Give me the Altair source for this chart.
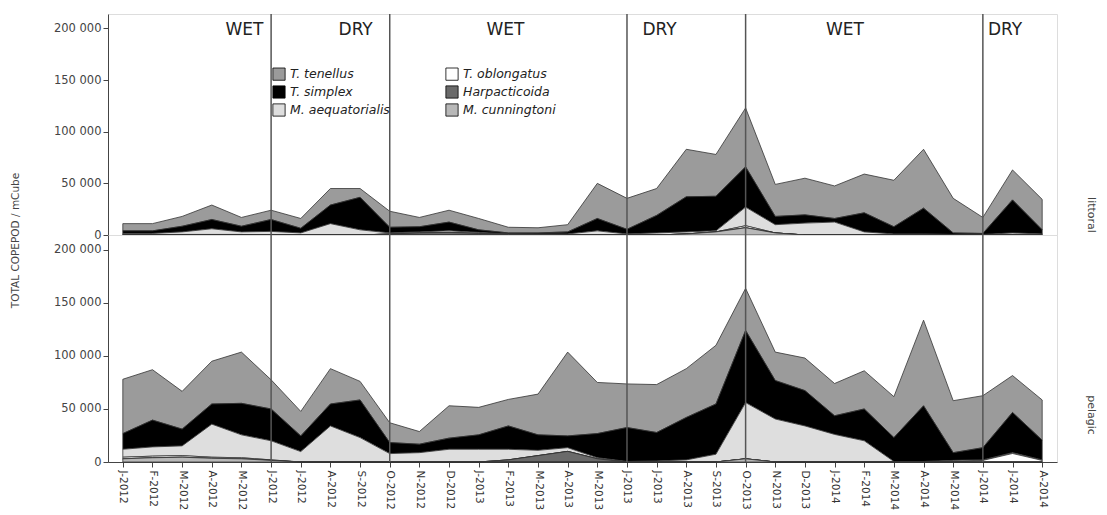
import altair as alt
import pandas as pd

months = ["J-2012", "F-2012", "M-2012", "A-2012", "M-2012", "J-2012", "J-2012", "A-2012",
          "S-2012", "O-2012", "N-2012", "D-2012", "J-2013", "F-2013", "M-2013", "A-2013",
          "M-2013", "J-2013", "J-2013", "A-2013", "S-2013", "O-2013", "N-2013", "D-2013",
          "J-2014", "F-2014", "M-2014", "A-2014", "M-2014", "J-2014", "J-2014", "A-2014"]

# ---- littoral ----
lit_tenellus = [7000, 7000, 9500, 14000, 8500, 9000, 9500, 16000, 8500, 15500, 9000, 11500, 11000, 5500, 5000, 7000,
                34000, 30000, 26000, 46000, 40500, 57000, 31000, 35500, 31500, 37500, 45000, 57000, 33500, 15500, 29000, 29500]
lit_simplex = [2500, 2500, 5500, 9000, 5500, 11500, 4500, 18000, 31500, 5500, 5000, 8500, 2500, 1000, 1000, 2000,
               12000, 4500, 17000, 34000, 33500, 39000, 8000, 8000, 3500, 18500, 7000, 25000, 1500, 1000, 32000, 4000]
lit_aequatorialis = [1000, 1000, 2500, 5500, 2500, 3500, 2000, 11000, 5000, 1000, 1000, 1500, 1000, 0, 500, 1000,
                     4000, 1000, 2000, 2000, 1000, 18000, 8000, 11500, 12500, 3000, 1000, 1000, 500, 500, 2000, 1000]
lit_oblongatus = [500, 500, 500, 500, 500, 0, 0, 0, 0, 0, 0, 0, 0, 0, 0, 0,
                  0, 0, 0, 0, 0, 2000, 0, 0, 0, 0, 0, 0, 0, 0, 0, 0]
lit_harpacticoida = [0, 0, 0, 0, 0, 0, 0, 0, 0, 1000, 2000, 2500, 1500, 500, 0, 0,
                     0, 0, 0, 0, 0, 0, 0, 0, 0, 0, 0, 0, 0, 0, 0, 0]
lit_cunningtoni = [0, 0, 0, 0, 0, 0, 0, 0, 0, 0, 0, 0, 0, 500, 500, 0,
                   0, 0, 0, 1000, 3000, 7000, 2000, 0, 0, 0, 0, 0, 0, 0, 0, 0]

# ---- pelagic ----
pel_tenellus = [51200, 47500, 35600, 40300, 48300, 27500, 23100, 33300, 17500, 18700, 11900, 30500, 25900, 25000, 38400, 79000,
                48200, 41100, 45200, 46000, 55300, 39700, 26800, 30700, 30400, 36000, 38600, 80700, 49000, 49000, 34800, 37900]
pel_simplex = [14800, 25300, 15800, 19000, 29700, 30000, 14800, 20700, 35500, 10400, 8000, 10500, 13600, 22000, 14600, 11100,
               22800, 32000, 26800, 40000, 47400, 68000, 36300, 33300, 17600, 30000, 22500, 52500, 7300, 11500, 37900, 18600]
pel_aequatorialis = [7500, 8700, 9200, 31200, 21600, 18000, 9800, 34000, 23000, 7900, 8800, 12000, 12000, 10000, 5000, 3500,
                     1000, 500, 1000, 2000, 7300, 53000, 40500, 34000, 26000, 20000, 500, 500, 1500, 500, 800, 500]
pel_oblongatus = [1500, 1500, 1500, 1000, 1000, 500, 0, 0, 0, 0, 0, 0, 0, 0, 0, 0,
                  0, 0, 0, 0, 0, 0, 0, 0, 0, 0, 0, 0, 0, 1500, 8000, 1500]
pel_harpacticoida = [0, 0, 0, 0, 0, 0, 0, 0, 0, 0, 0, 0, 0, 2000, 6000, 10000,
                     3000, 0, 0, 0, 0, 0, 0, 0, 0, 0, 0, 0, 0, 0, 0, 0]
pel_cunningtoni = [3000, 4000, 4500, 3500, 3000, 1500, 0, 0, 0, 0, 0, 0, 0, 0, 0, 0,
                   0, 0, 0, 0, 0, 3000, 0, 0, 0, 0, 0, 0, 0, 0, 0, 0]

species_stack = ["M. cunningtoni", "Harpacticoida", "T. oblongatus", "M. aequatorialis", "T. simplex", "T. tenellus"]
legend_order = ["T. tenellus", "T. simplex", "M. aequatorialis", "T. oblongatus", "Harpacticoida", "M. cunningtoni"]
legend_colors = ["#9b9b9b", "#000000", "#dedede", "#ffffff", "#6a6a6a", "#b8b8b8"]

season_boundaries = [5, 9, 17, 21, 29]
season_labels = ["WET", "DRY", "WET", "DRY", "WET", "DRY"]
season_centers = [4.1, 7.85, 12.9, 18.1, 24.35, 29.75]

def make_df(series):
    rows = []
    for name, vals in series.items():
        rank = species_stack.index(name)
        for i, v in enumerate(vals):
            rows.append({"idx": i, "species": name, "value": v, "rank": rank})
    return pd.DataFrame(rows)

lit_df = make_df({"T. tenellus": lit_tenellus, "T. simplex": lit_simplex, "M. aequatorialis": lit_aequatorialis,
                  "T. oblongatus": lit_oblongatus, "Harpacticoida": lit_harpacticoida, "M. cunningtoni": lit_cunningtoni})
pel_df = make_df({"T. tenellus": pel_tenellus, "T. simplex": pel_simplex, "M. aequatorialis": pel_aequatorialis,
                  "T. oblongatus": pel_oblongatus, "Harpacticoida": pel_harpacticoida, "M. cunningtoni": pel_cunningtoni})
rule_df = pd.DataFrame({"idx": season_boundaries})
season_df = pd.DataFrame({"idx": season_centers, "label": season_labels})

FONT = "DejaVu Sans"
W = 949
H_TOP = 221
H_BOT = 227

xscale = alt.Scale(domain=[-0.5, 31.5], nice=False, zero=False)
label_array = "[" + ",".join("'" + m + "'" for m in months) + "]"
x_axis = alt.Axis(values=list(range(32)), labelExpr=label_array + "[datum.value]", labelAngle=90,
                  grid=False, tickSize=5, labelFont=FONT, labelFontSize=10.5, labelColor="#333",
                  domainColor="#444", tickColor="#444", labelPadding=3)
x_top = alt.X("idx:Q", scale=xscale, axis=None)
x_bot = alt.X("idx:Q", scale=xscale, axis=x_axis, title=None)

yscale = alt.Scale(domain=[0, 214000], nice=False, zero=True)
ylab = "replace(format(datum.value, ','), ',', ' ')"
y_axis_top = alt.Axis(values=[0, 50000, 100000, 150000, 200000], labelExpr=ylab, grid=False, tickSize=5,
                      labelFont=FONT, labelFontSize=11.5, labelColor="#444", domainColor="#444", tickColor="#444",
                      title="TOTAL COPEPOD / mCube", titleFont=FONT, titleFontSize=10.5, titleFontWeight="normal",
                      titleColor="#444", titleX=-93, titleY=226, titleAngle=-90, titleAlign="center",
                      titleBaseline="middle")
y_axis_bot = alt.Axis(values=[0, 50000, 100000, 150000, 200000], labelExpr=ylab, grid=False, tickSize=5,
                      labelFont=FONT, labelFontSize=11.5, labelColor="#444", domainColor="#444", tickColor="#444",
                      title=None)

color = alt.Color("species:N", scale=alt.Scale(domain=legend_order, range=legend_colors),
                  legend=alt.Legend(title=None, orient="none", legendX=164, legendY=53, columns=2,
                                    symbolType="square", symbolSize=150, symbolStrokeColor="#000",
                                    symbolStrokeWidth=0.8, labelFont=FONT, labelFontStyle="italic",
                                    labelFontSize=12.5, labelColor="#222", columnPadding=54, rowPadding=2,
                                    labelOffset=4))


def panel(df, x_enc, y_axis, h, name, name_y, seasons):
    area = alt.Chart(df).mark_area(stroke="#333", strokeWidth=0.8, interpolate="linear").encode(
        x=x_enc,
        y=alt.Y("value:Q", stack="zero", scale=yscale, axis=y_axis),
        color=color,
        order=alt.Order("rank:Q", sort="ascending"),
    )
    rules = alt.Chart(rule_df).mark_rule(color="#555", strokeWidth=1.5).encode(x=x_enc)
    lab = alt.Chart(pd.DataFrame({"t": [name]})).mark_text(
        angle=90, font=FONT, fontSize=11, color="#444", align="center", baseline="middle"
    ).encode(text="t:N", x=alt.value(W + 34), y=alt.value(name_y))
    layers = [area, rules, lab]
    if seasons:
        st = alt.Chart(season_df).mark_text(font=FONT, fontSize=17, color="#222", align="center",
                                            baseline="middle").encode(x=x_enc, y=alt.value(16), text="label:N")
        layers.append(st)
    return alt.layer(*layers).properties(width=W, height=h)


top = panel(lit_df, x_top, y_axis_top, H_TOP, "littoral", 201, True)
bot = panel(pel_df, x_bot, y_axis_bot, H_BOT, "pelagic", 180, False)

chart = alt.vconcat(top, bot, spacing=0, bounds="flush").properties(
    padding={"left": 1, "top": 4, "right": 0, "bottom": 5}
).configure_view(stroke="#555", strokeWidth=1).configure(background="white")

chart.save("out.html", embed_options={"renderer": "svg", "actions": False})
